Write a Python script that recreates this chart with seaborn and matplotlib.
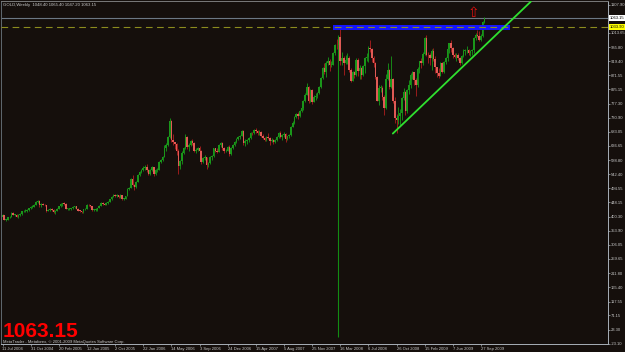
import numpy as np
import pandas as pd
import matplotlib
matplotlib.use("Agg")
import matplotlib.pyplot as plt
import matplotlib.transforms as mtransforms
import seaborn as sns

# ---------------- data ----------------
symbol_header = "GOLD,Weekly  1048.40 1065.40 1047.20 1063.15"
last_price_text = "1063.15"
copyright_text = "MetaTrader - Metaforex, \u00a9 2001-2009 MetaQuotes Software Corp."
start_date = "2004-07-11"
first_open = 401.0

close_2004 = [405, 391, 391, 399, 400, 414, 407, 407, 400, 405, 409, 418, 420, 420, 423, 428, 434, 434, 441, 450, 453, 438, 442, 441, 438]
high_2004 = [409, 406, 394, 401, 403, 416, 416, 411, 408, 408, 412, 419, 422, 425, 427, 431, 436, 440, 442, 453, 456, 455, 445, 446, 444]
low_2004 = [400, 389, 387, 388, 395, 398, 405, 404, 398, 397, 403, 406, 415, 416, 417, 420, 425, 430, 432, 439, 447, 434, 432, 438, 435]

close_2005 = [419, 423, 427, 423, 415, 421, 427, 435, 443, 444, 443, 427, 427, 427, 428, 434, 435, 427, 421, 420,
              417, 425, 427, 440, 438, 435, 423, 424, 424, 429, 437, 446, 443, 441, 446, 450, 458, 467, 473, 469,
              473, 466, 473, 460, 460, 470, 493, 497, 525, 505, 500, 517]
high_2005 = [440, 427, 428, 428, 426, 422, 429, 437, 445, 446, 448, 445, 430, 430, 430, 437, 437, 437, 429, 423,
             421, 427, 431, 442, 444, 440, 436, 426, 428, 430, 439, 448, 448, 446, 448, 452, 460, 469, 475, 475,
             476, 474, 475, 474, 462, 471, 495, 499, 528, 541, 508, 520]
low_2005 = [417, 418, 419, 420, 412, 410, 418, 425, 433, 436, 439, 425, 424, 423, 424, 426, 430, 426, 420, 416,
            414, 414, 423, 425, 435, 432, 420, 421, 418, 421, 428, 435, 440, 438, 440, 443, 448, 456, 465, 466,
            466, 463, 464, 457, 455, 458, 469, 490, 495, 503, 490, 497]

close_2006 = [540, 550, 556, 562, 567, 555, 543, 556, 565, 543, 556, 557, 584, 588, 600, 630, 638, 665, 718, 655,
              648, 642, 620, 570, 585, 614, 628, 666, 633, 639, 652, 646, 620, 624, 628, 620, 584, 596, 598, 572,
              580, 599, 604, 628, 620, 617, 639, 647, 629, 618, 620, 632]
high_2006 = [542, 553, 560, 568, 573, 575, 558, 558, 568, 566, 558, 563, 587, 594, 602, 640, 645, 668, 730, 722,
             675, 650, 645, 625, 590, 618, 632, 675, 668, 645, 655, 660, 648, 630, 632, 636, 622, 600, 605, 600,
             582, 602, 606, 630, 630, 630, 642, 650, 648, 632, 625, 635]
low_2006 = [515, 536, 545, 553, 557, 550, 538, 540, 552, 536, 540, 550, 555, 580, 585, 598, 620, 635, 663, 648,
            640, 625, 605, 543, 560, 575, 610, 625, 625, 620, 635, 640, 615, 612, 618, 615, 575, 580, 590, 560,
            565, 575, 590, 600, 615, 612, 615, 634, 622, 614, 615, 618]

close_2007 = [609, 631, 640, 650, 660, 666, 671, 685, 645, 652, 656, 663, 680, 679, 688, 686, 678, 684, 670, 664,
              656, 666, 663, 654, 656, 651, 656, 666, 680, 665, 672, 675, 660, 668, 673, 700, 714, 733, 743, 737,
              754, 763, 786, 807, 833, 785, 822, 783, 800, 802, 812, 834]
high_2007 = [640, 634, 643, 652, 662, 670, 673, 690, 688, 658, 660, 666, 682, 684, 692, 696, 690, 688, 686, 675,
             667, 668, 679, 665, 662, 658, 660, 668, 684, 686, 675, 682, 680, 670, 676, 703, 720, 737, 746, 748,
             756, 770, 790, 812, 845, 837, 826, 825, 805, 812, 815, 836]
low_2007 = [603, 605, 625, 636, 646, 655, 660, 668, 640, 636, 642, 650, 660, 672, 676, 680, 674, 673, 665, 660,
            652, 652, 658, 640, 648, 642, 646, 652, 662, 662, 656, 665, 650, 655, 664, 670, 698, 708, 728, 725,
            732, 750, 757, 783, 805, 780, 782, 775, 782, 790, 795, 810]

close_2008 = [863, 897, 882, 913, 921, 907, 907, 946, 974, 972, 1000, 920, 931, 914, 924, 930, 888, 854, 883, 873,
              924, 887, 897, 872, 903, 928, 932, 962, 958, 928, 912, 865, 787, 831, 831, 798, 763, 859, 888, 832,
              859, 786, 730, 722, 736, 745, 795, 817, 752, 823, 838, 872, 882]
high_2008 = [866, 900, 914, 920, 933, 927, 918, 950, 976, 994, 1004, 1033.9, 948, 935, 940, 946, 935, 895, 887, 887,
             930, 928, 906, 900, 906, 932, 946, 968, 988, 962, 935, 915, 870, 838, 840, 835, 805, 875, 912, 892,
             935, 862, 800, 744, 765, 760, 800, 830, 820, 826, 855, 878, 885]
low_2008 = [830, 858, 875, 865, 905, 885, 898, 905, 940, 960, 962, 905, 905, 872, 908, 910, 882, 850, 852, 862,
            870, 870, 858, 858, 868, 880, 920, 915, 948, 915, 900, 860, 785, 772, 815, 790, 740, 760, 855, 825,
            830, 780, 712, 681, 710, 705, 722, 790, 740, 745, 808, 830, 860]

close_2009 = [855, 839, 894, 918, 913, 943, 995, 940, 939, 931, 953, 925, 898, 878, 870, 913, 883, 915, 929, 958,
              978, 963, 938, 934, 940, 929, 912, 937, 952, 955, 956, 946, 954, 955, 995, 1007, 1002, 990, 1003, 1048.4,
              1063.15]
high_2009 = [884, 862, 898, 920, 930, 950, 1000, 1005, 950, 945, 960, 962, 935, 900, 895, 915, 915, 918, 932, 962,
             980, 990, 965, 945, 946, 946, 932, 940, 958, 960, 968, 960, 956, 960, 998, 1012, 1022, 1020, 1008, 1053,
             1065.4]
low_2009 = [840, 803, 832, 880, 895, 905, 940, 935, 912, 905, 888, 920, 880, 865, 862, 868, 880, 878, 910, 920,
            945, 950, 930, 928, 918, 922, 905, 910, 933, 940, 945, 938, 935, 940, 945, 990, 998, 985, 985, 1000,
            1047.2]

x_tick_labels = ["11 Jul 2004", "31 Oct 2004", "20 Feb 2005", "12 Jun 2005", "2 Oct 2005", "22 Jan 2006",
                 "14 May 2006", "3 Sep 2006", "24 Dec 2006", "15 Apr 2007", "5 Aug 2007", "25 Nov 2007",
                 "16 Mar 2008", "6 Jul 2008", "26 Oct 2008", "15 Feb 2009", "7 Jun 2009", "27 Sep 2009"]
y_tick_values = [1107.90, 1013.65, 965.80, 919.40, 871.55, 825.15, 777.30, 730.90, 683.05, 636.65, 588.80,
                 542.40, 494.55, 448.15, 400.30, 353.90, 306.05, 259.65, 211.80, 165.40, 117.55, 71.15, 23.30, -23.10]

bid_price = 1063.15
high_line_price = 1033.90
zone_prices = [1024.4, 1041.1]
zone_bars = [187.8, 288.4]
vline_bar = 191
vline_prices = [0, 1005]
trend_bars = [221.9, 300.3]
trend_prices = [677.6, 1117.3]
arrow_bar, arrow_price = 267.6, 1081.0

# ---------------- frame ----------------
close = close_2004 + close_2005 + close_2006 + close_2007 + close_2008 + close_2009
high = high_2004 + high_2005 + high_2006 + high_2007 + high_2008 + high_2009
low = low_2004 + low_2005 + low_2006 + low_2007 + low_2008 + low_2009
opens = [first_open] + close[:-1]
dates = pd.date_range(start_date, periods=len(close), freq="7D")
df = pd.DataFrame({"date": dates, "open": opens, "high": high, "low": low, "close": close})
df["bar"] = np.arange(len(df))

# ---------------- style ----------------
BG = "#150f0c"
TXT = "#c8c8c8"
AXC = "#a8b0b8"
sns.set_theme(style="dark", rc={"axes.facecolor": BG, "figure.facecolor": BG})
plt.rcParams["font.family"] = ["Liberation Sans", "DejaVu Sans"]

W, H = 625, 352
fig = plt.figure(figsize=(W / 100, H / 100), dpi=100)
ax_left, ax_right, ax_top, ax_bottom = 1, 608, 1, 343.7
ax = fig.add_axes([ax_left / W, (H - ax_bottom) / H, (ax_right - ax_left) / W, (ax_bottom - ax_top) / H])
ax.set_facecolor(BG)
ax.grid(False)

px_per_bar = 1.759
x0 = 2.5
ax.set_xlim((ax_left - x0) / px_per_bar, (ax_right - x0) / px_per_bar)
ax.set_ylim(-23.10, 1119.6)

# candles
up = (df["close"] >= df["open"]).values
body_lo = np.minimum(df["open"], df["close"]).values
body_h = np.maximum(np.abs(df["close"] - df["open"]).values, 1.5)
bull, bull_wick = "#1a961a", "#178717"
bear, bear_wick = "#e05a55", "#9a1c1c"
ax.vlines(df["bar"][up], df["low"][up], df["high"][up], color=bull_wick, lw=0.7, zorder=3)
ax.vlines(df["bar"][~up], df["low"][~up], df["high"][~up], color=bear_wick, lw=0.7, zorder=3)
ax.bar(df["bar"][up], body_h[up], bottom=body_lo[up], width=0.9, color=bull, linewidth=0, zorder=4)
ax.bar(df["bar"][~up], body_h[~up], bottom=body_lo[~up], width=0.9, color=bear, linewidth=0, zorder=4)

# horizontal lines / zone
ax.axhline(bid_price, color="#6c7884", lw=0.8, zorder=2)
ax.fill_between(zone_bars, zone_prices[0], zone_prices[1], color="#1616ff", lw=0, zorder=5)
ax.axhline(high_line_price, color="#8c8c1e", lw=0.8, dashes=(6, 4), zorder=6)

# vertical line and trend line
ax.vlines(vline_bar, vline_prices[0], vline_prices[1], color="#138c13", lw=0.8, zorder=2)
sns.lineplot(x=trend_bars, y=trend_prices, color="#2fe02f", lw=1.3, ax=ax, zorder=7)
ax.text(arrow_bar, arrow_price, "\u21e7", color="#e01010", fontsize=10, ha="center", va="center",
        family=["DejaVu Sans"], zorder=8)

# axes / spines
for s in ["left", "bottom", "right"]:
    ax.spines[s].set_color(AXC)
    ax.spines[s].set_linewidth(0.7)
ax.spines["left"].set_color("#606870")
ax.spines["top"].set_color("#7a7a7a")
ax.spines["top"].set_linestyle((0, (1, 1)))
ax.spines["top"].set_linewidth(0.7)

tick_pos = [int(dates.get_loc(pd.Timestamp(lbl))) for lbl in x_tick_labels]
ax.set_xticks(tick_pos)
ax.set_xticklabels(x_tick_labels, ha="left", fontsize=3.0, color=TXT)
ax.tick_params(axis="x", direction="out", length=1.5, width=0.5, pad=0.8, colors=AXC, labelcolor=TXT, bottom=True)

ax.yaxis.tick_right()
ax.set_yticks(y_tick_values)
ax.set_yticklabels([f"{v:.2f}" for v in y_tick_values], fontsize=3.0, color=TXT)
ax.tick_params(axis="y", direction="out", length=1.2, width=0.5, pad=0.8, colors=AXC, labelcolor=TXT,
               right=True, left=False)
ax.set_xlabel("")
ax.set_ylabel("")

# price tags at right
tr = mtransforms.blended_transform_factory(ax.transAxes, ax.transData)
ax.text(1.003, bid_price, f"{bid_price:.2f}", transform=tr, fontsize=3.0, color="black", va="center", ha="left",
        bbox=dict(boxstyle="square,pad=0.25", fc="white", ec="none"), clip_on=False, zorder=10)
ax.text(1.003, high_line_price, f"{high_line_price:.2f}", transform=tr, fontsize=3.0, color="black", va="center",
        ha="left", bbox=dict(boxstyle="square,pad=0.25", fc="#ffff00", ec="none"), clip_on=False, zorder=10)

# texts
fig.text(3 / W, (H - 5) / H, symbol_header, fontsize=3.1, color=TXT, va="center", ha="left")
fig.text(3 / W, (H - 337.3) / H, last_price_text, fontsize=15, color="#ff0000", fontweight="bold",
         va="baseline", ha="left", zorder=10)
fig.text(3 / W, (H - 341.6) / H, copyright_text, fontsize=3.0, color=TXT, va="center", ha="left", zorder=10)

fig.savefig("out.png", dpi=100, facecolor=BG)
